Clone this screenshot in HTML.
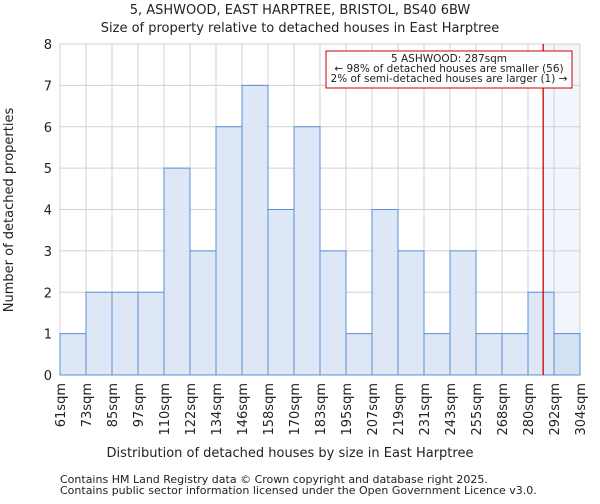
<!DOCTYPE html>
<html><head><meta charset="utf-8"><style>
body{margin:0;background:#fff;font-family:"DejaVu Sans","Liberation Sans",sans-serif}
svg text{font-family:"DejaVu Sans","Liberation Sans",sans-serif;fill:#222}
</style></head><body>
<svg id="c" width="600" height="500"></svg>
<script>
const labels=["61sqm","73sqm","85sqm","97sqm","110sqm","122sqm","134sqm","146sqm","158sqm","170sqm","183sqm","195sqm","207sqm","219sqm","231sqm","243sqm","255sqm","268sqm","280sqm","292sqm","304sqm"];
const counts=[1,2,2,2,5,3,6,7,4,6,3,1,4,3,1,3,1,1,2,1];
const yTicks=[0,1,2,3,4,5,6,7,8];
const marker=[287];
const edgesVal=[61,73,85,97,110,122,134,146,158,170,183,195,207,219,231,243,255,268,280,292,304];
const L=60,R=580,T=44,B=375,ymax=8;
const n=counts.length,bw=(R-L)/n;
const x=i=>L+i*bw;
const y=v=>B-v/ymax*(B-T);
function xv(v){for(let i=0;i<edgesVal.length-1;i++){if(v<=edgesVal[i+1])return x(i)+bw*(v-edgesVal[i])/(edgesVal[i+1]-edgesVal[i]);}return R;}
const s=document.getElementById('c');const NS="http://www.w3.org/2000/svg";
function el(t,a,txt){const e=document.createElementNS(NS,t);for(const k in a)e.setAttribute(k,a[k]);if(txt!==undefined)e.textContent=txt;s.appendChild(e);return e;}
const mx=xv(marker[0]);
let e=el('rect',{x:mx,y:T,width:R-mx,height:B-T,fill:'#f2f5fc'});


for(let i=0;i<=n;i++){e=el('line',{x1:x(i),x2:x(i),y1:T,y2:B,stroke:'#d0d0d0'});

}
yTicks.forEach(v=>{e=el('line',{x1:L,x2:R,y1:y(v),y2:y(v),stroke:'#d0d0d0'});


e=el('text',{x:L-8,y:y(v)+5,'text-anchor':'end','font-size':13},v);

});
counts.forEach((c,i)=>{const bx=x(i);const over=bx>=mx;
e=el('rect',{x:bx,y:y(c),width:bw,height:B-y(c),fill:over?'#d4e0f3':'#dde7f5',stroke:'#5a8fd6','stroke-width':1});

});
labels.forEach((t,i)=>{e=el('text',{transform:`translate(${x(i)+5},${B+8}) rotate(-90)`,'text-anchor':'end','font-size':13},t);

});
e=el('line',{x1:mx,x2:mx,y1:T,y2:B,stroke:'#cc0000','stroke-width':1.3});


e=el('rect',{x:326,y:51,width:246,height:37,fill:'#fff',stroke:'#cc0000'});


[["5 ASHWOOD: 287sqm",62],["← 98% of detached houses are smaller (56)",72],["2% of semi-detached houses are larger (1) →",82]].forEach(a=>{e=el('text',{x:449,y:a[1],'text-anchor':'middle','font-size':10.5},a[0]);

});
e=el('text',{x:300,y:14,'text-anchor':'middle','font-size':13},"5, ASHWOOD, EAST HARPTREE, BRISTOL, BS40 6BW");


e=el('text',{x:300,y:32,'text-anchor':'middle','font-size':13},"Size of property relative to detached houses in East Harptree");


e=el('text',{x:290,y:457,'text-anchor':'middle','font-size':13},"Distribution of detached houses by size in East Harptree");


e=el('text',{transform:'translate(13,210) rotate(-90)','text-anchor':'middle','font-size':13},"Number of detached properties");


e=el('text',{x:60,y:483,'font-size':11,fill:'#444'},"Contains HM Land Registry data © Crown copyright and database right 2025.");


e=el('text',{x:60,y:494,'font-size':11,fill:'#444'},"Contains public sector information licensed under the Open Government Licence v3.0.");


</script>
</body></html>
